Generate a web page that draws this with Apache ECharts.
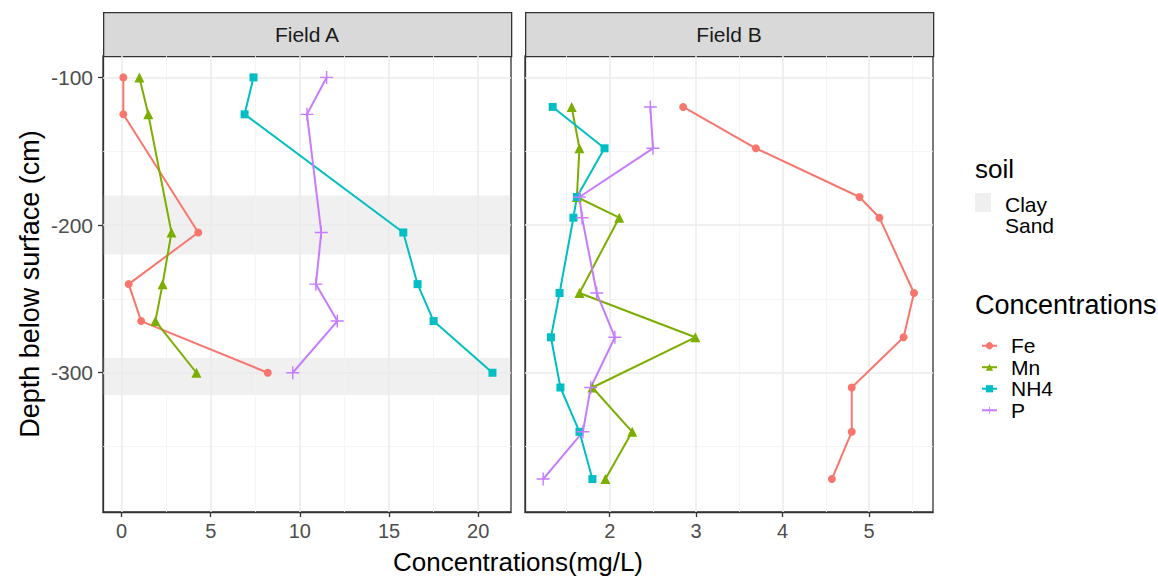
<!DOCTYPE html>
<html>
<head>
<meta charset="utf-8">
<script src="https://cdn.jsdelivr.net/npm/echarts@6/dist/echarts.min.js"></script>
<style>
html,body{margin:0;padding:0;background:#fff;}
#chart{width:1158px;height:577px;}
</style>
</head>
<body>
<div id="chart"></div>
<script>
// ---- data ----
const seriesNames = ['Fe', 'Mn', 'NH4', 'P'];
const panelNames = ['Field A', 'Field B'];
const depthA = [-100, -125, -205, -240, -265, -300];
const feA  = [0.1, 0.1, 4.3, 0.4, 1.1, 8.2];
const mnA  = [1.0, 1.5, 2.8, 2.3, 1.9, 4.2];
const nh4A = [7.4, 6.9, 15.8, 16.6, 17.5, 20.8];
const pA   = [11.5, 10.4, 11.2, 10.9, 12.1, 9.6];
const depthB = [-120, -148, -181, -195, -246, -276, -310, -340, -372];
const feB  = [2.85, 3.69, 4.89, 5.12, 5.52, 5.40, 4.80, 4.80, 4.57];
const mnB  = [1.56, 1.65, 1.62, 2.11, 1.65, 2.99, 1.80, 2.26, 1.95];
const nh4B = [1.34, 1.94, 1.62, 1.58, 1.42, 1.32, 1.43, 1.65, 1.80];
const pB   = [2.47, 2.50, 1.65, 1.68, 1.85, 2.06, 1.78, 1.69, 1.23];
const clayBandsA = [[-180, -220], [-290, -315]];
const soilLabels = ['Clay', 'Sand'];
const xTicksA = [0, 5, 10, 15, 20];
const xMinorA = [2.5, 7.5, 12.5, 17.5];
const xTicksB = [2, 3, 4, 5];
const xMinorB = [1.5, 2.5, 3.5, 4.5, 5.5];
const yTicks = [-100, -200, -300];
const yMinor = [-150, -250, -350];

// ---- styles ----
const FONT = "'Liberation Sans', Arial, sans-serif";
const colors = {Fe: '#F8766D', Mn: '#7CAE00', NH4: '#00BFC4', P: '#C77CFF'};
const plusPath = 'path://M5.35,0 L6.65,0 L6.65,5.35 L12,5.35 L12,6.65 L6.65,6.65 L6.65,12 L5.35,12 L5.35,6.65 L0,6.65 L0,5.35 L5.35,5.35 Z';
const symbols = {Fe: ['circle', 8], Mn: ['triangle', 10], NH4: ['rect', 8], P: [plusPath, 13]};

const panelA = {Fe: feA, Mn: mnA, NH4: nh4A, P: pA};
const panelB = {Fe: feB, Mn: mnB, NH4: nh4B, P: pB};

const gridL = [103, 525], gridW = 408, gridTop = 56, gridH = 456;

function pairs(xs, ys) { return xs.map((x, i) => [x, ys[i]]); }

function gridSeries(idx, majX, minX, bands) {
  const ml = [];
  minX.forEach(v => ml.push({xAxis: v, lineStyle: {color: '#f3f3f3', width: 0.8}}));
  yMinor.forEach(v => ml.push({yAxis: v, lineStyle: {color: '#f3f3f3', width: 0.8}}));
  majX.forEach(v => ml.push({xAxis: v, lineStyle: {color: '#ebebeb', width: 1.5}}));
  yTicks.forEach(v => ml.push({yAxis: v, lineStyle: {color: '#ebebeb', width: 1.5}}));
  const s = {
    type: 'line', name: '_grid' + idx, xAxisIndex: idx, yAxisIndex: idx, data: [],
    silent: true, z: 1, animation: false,
    markLine: {silent: true, z: 1, symbol: ['none', 'none'], label: {show: false}, animation: false,
      emphasis: {disabled: true}, lineStyle: {type: 'solid'}, data: ml}
  };
  if (bands) {
    s.markArea = {silent: true, z: 1, animation: false, itemStyle: {color: 'rgba(180,180,180,0.2)'},
      emphasis: {disabled: true},
      data: bands.map(b => [{yAxis: b[0]}, {yAxis: b[1]}])};
  }
  return s;
}

function dataSeries(idx, depth, values) {
  return seriesNames.map(n => ({
    type: 'line', name: n, xAxisIndex: idx, yAxisIndex: idx,
    data: pairs(values[n], depth),
    symbol: symbols[n][0], symbolSize: symbols[n][1], showSymbol: true,
    lineStyle: {color: colors[n], width: 2}, itemStyle: {color: colors[n]},
    emphasis: {disabled: true}, z: 6, animation: false
  }));
}

function xAxis(idx, min, max, ticks) {
  return {
    type: 'value', gridIndex: idx, min: min, max: max, position: 'bottom',
    axisLine: {show: true, onZero: false, lineStyle: {color: '#333', width: 1.3}},
    axisTick: {show: true, customValues: ticks, length: 5, lineStyle: {color: '#333', width: 1.3}},
    axisLabel: {show: true, customValues: ticks, margin: 9, color: '#4d4d4d', fontSize: 20, fontFamily: FONT},
    splitLine: {show: false}, minorSplitLine: {show: false}
  };
}
function yAxis(idx, showLabels) {
  return {
    type: 'value', gridIndex: idx, min: -394.3, max: -85.5, position: 'left',
    axisLine: {show: true, onZero: false, lineStyle: {color: '#333', width: 1.3}},
    axisTick: {show: showLabels, customValues: yTicks, length: 5, lineStyle: {color: '#333', width: 1.3}},
    axisLabel: {show: showLabels, customValues: yTicks, margin: 10, color: '#4d4d4d', fontSize: 21, fontFamily: FONT},
    splitLine: {show: false}
  };
}

const graphics = [];
panelNames.forEach((name, i) => {
  graphics.push({type: 'rect', left: gridL[i], top: 12, shape: {x: 0, y: 0, width: gridW, height: 44},
    style: {fill: '#d9d9d9', stroke: '#333', lineWidth: 1.3}, silent: true});
  graphics.push({type: 'text', x: gridL[i] + gridW / 2, y: 34,
    style: {text: name, fill: '#1a1a1a', font: '21px ' + FONT, align: 'center', verticalAlign: 'middle'}, silent: true});
});
graphics.push({type: 'text', x: 518, y: 562,
  style: {text: 'Concentrations(mg/L)', fill: '#000', font: '26px ' + FONT, align: 'center', verticalAlign: 'middle'}});
graphics.push({type: 'text', x: 30, y: 284, rotation: Math.PI / 2,
  style: {text: 'Depth below surface (cm)', fill: '#000', font: '27px ' + FONT, align: 'center', verticalAlign: 'middle'}});
graphics.push({type: 'text', x: 975, y: 169,
  style: {text: 'soil', fill: '#000', font: '26px ' + FONT, align: 'left', verticalAlign: 'middle'}});
graphics.push({type: 'rect', shape: {x: 975, y: 193, width: 16, height: 19}, style: {fill: '#efefef'}});
soilLabels.forEach((t, i) => {
  graphics.push({type: 'text', x: 1005, y: 204 + i * 21.5,
    style: {text: t, fill: '#000', font: '21px ' + FONT, align: 'left', verticalAlign: 'middle'}});
});
graphics.push({type: 'text', x: 975, y: 305,
  style: {text: 'Concentrations', fill: '#000', font: '27px ' + FONT, align: 'left', verticalAlign: 'middle'}});

const option = {
  backgroundColor: '#fff',
  animation: false,
  grid: [0, 1].map(i => ({left: gridL[i], top: gridTop, width: gridW, height: gridH, show: true,
    backgroundColor: 'rgba(0,0,0,0)', borderColor: '#333', borderWidth: 1.3, containLabel: false})),
  xAxis: [xAxis(0, -1.04, 21.84, xTicksA), xAxis(1, 1.02, 5.74, xTicksB)],
  yAxis: [yAxis(0, true), yAxis(1, false)],
  legend: {
    data: seriesNames, orient: 'vertical', left: 976, top: 330,
    itemWidth: 15, itemHeight: 9, itemGap: 0, selectedMode: false,
    textStyle: {fontSize: 21, fontFamily: FONT, color: '#000', lineHeight: 21.5, padding: [0, 0, 0, 9]}
  },
  series: [
    gridSeries(0, xTicksA, xMinorA, clayBandsA),
    gridSeries(1, xTicksB, xMinorB, null),
    ...dataSeries(0, depthA, panelA),
    ...dataSeries(1, depthB, panelB)
  ],
  graphic: graphics
};

const chart = echarts.init(document.getElementById('chart'), null, {renderer: 'svg', width: 1158, height: 577});
chart.setOption(option);
</script>
</body>
</html>
